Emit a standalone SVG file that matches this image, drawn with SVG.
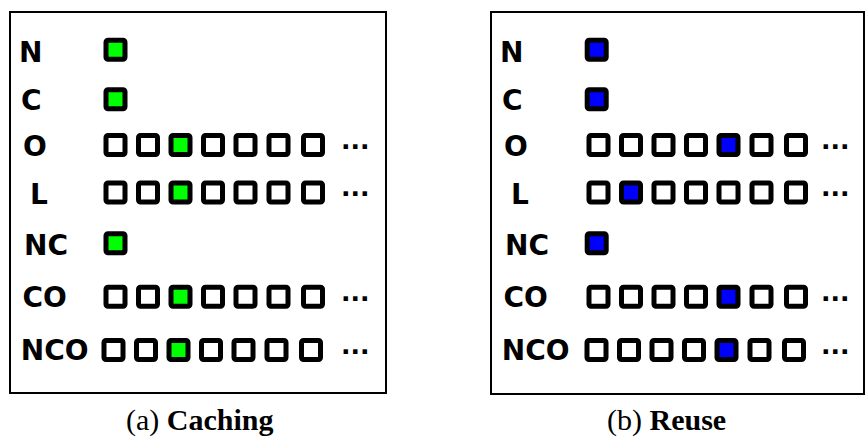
<svg xmlns="http://www.w3.org/2000/svg" width="865" height="439" viewBox="0 0 865 439">
<style>
.frame{fill:none;stroke:#000;stroke-width:2}
.sq{fill:#fff;stroke:#000;stroke-width:5}
.g{fill:#00ff00}
.b{fill:#0000ff}
.lbl{font-family:"DejaVu Sans",sans-serif;font-weight:bold;font-size:28px;fill:#000}
.dots{font-family:"DejaVu Sans",sans-serif;font-weight:bold;font-size:25px;fill:#000}
.cap{font-family:"Liberation Serif",serif;font-size:30px;fill:#000}
.bold{font-weight:bold}
</style>
<defs>
<rect id="s" width="19" height="19" rx="2"/>
</defs>
<g id="panel-a">
<rect class="frame" x="10" y="12" width="376" height="381"/>
<g id="a-N"><text class="lbl" x="19" y="62">N</text><use href="#s" class="sq g" x="106" y="40.3"/></g>
<g id="a-C"><text class="lbl" x="21" y="110">C</text><use href="#s" class="sq g" x="106" y="89.8"/></g>
<g id="a-O"><text class="lbl" x="23" y="156">O</text>
<use href="#s" class="sq" x="106" y="135.5"/><use href="#s" class="sq" x="138.5" y="135.5"/><use href="#s" class="sq g" x="171" y="135.5"/><use href="#s" class="sq" x="203.5" y="135.5"/><use href="#s" class="sq" x="236" y="135.5"/><use href="#s" class="sq" x="269" y="135.5"/><use href="#s" class="sq" x="303.5" y="135.5"/>
<text class="dots" x="341" y="149">...</text></g>
<g id="a-L"><text class="lbl" x="30" y="204">L</text>
<use href="#s" class="sq" x="106" y="183"/><use href="#s" class="sq" x="138.5" y="183"/><use href="#s" class="sq g" x="171" y="183"/><use href="#s" class="sq" x="203.5" y="183"/><use href="#s" class="sq" x="236" y="183"/><use href="#s" class="sq" x="269" y="183"/><use href="#s" class="sq" x="303.5" y="183"/>
<text class="dots" x="341" y="196">...</text></g>
<g id="a-NC"><text class="lbl" x="24" y="255">NC</text><use href="#s" class="sq g" x="106" y="233.8"/></g>
<g id="a-CO"><text class="lbl" x="22.5" y="307">CO</text>
<use href="#s" class="sq" x="106" y="287.2"/><use href="#s" class="sq" x="138.5" y="287.2"/><use href="#s" class="sq g" x="171" y="287.2"/><use href="#s" class="sq" x="203.5" y="287.2"/><use href="#s" class="sq" x="236" y="287.2"/><use href="#s" class="sq" x="269" y="287.2"/><use href="#s" class="sq" x="303.5" y="287.2"/>
<text class="dots" x="341" y="301">...</text></g>
<g id="a-NCO"><text class="lbl" x="20.8" y="360">NCO</text>
<use href="#s" class="sq" x="104" y="340.5"/><use href="#s" class="sq" x="136.5" y="340.5"/><use href="#s" class="sq g" x="169" y="340.5"/><use href="#s" class="sq" x="201.5" y="340.5"/><use href="#s" class="sq" x="234" y="340.5"/><use href="#s" class="sq" x="267" y="340.5"/><use href="#s" class="sq" x="301.5" y="340.5"/>
<text class="dots" x="341" y="354">...</text></g>
<text class="cap" x="126" y="430">(a) <tspan class="bold">Caching</tspan></text>
</g>
<g id="panel-b">
<rect class="frame" x="491" y="12" width="373" height="382"/>
<g id="b-N"><text class="lbl" x="500" y="62">N</text><use href="#s" class="sq b" x="587.2" y="40.3"/></g>
<g id="b-C"><text class="lbl" x="502" y="110">C</text><use href="#s" class="sq b" x="587.2" y="89.8"/></g>
<g id="b-O"><text class="lbl" x="504" y="156">O</text>
<use href="#s" class="sq" x="589" y="135.5"/><use href="#s" class="sq" x="621.5" y="135.5"/><use href="#s" class="sq" x="654" y="135.5"/><use href="#s" class="sq" x="686.5" y="135.5"/><use href="#s" class="sq b" x="719" y="135.5"/><use href="#s" class="sq" x="752" y="135.5"/><use href="#s" class="sq" x="786.5" y="135.5"/>
<text class="dots" x="821" y="149">...</text></g>
<g id="b-L"><text class="lbl" x="511" y="204">L</text>
<use href="#s" class="sq" x="589" y="183"/><use href="#s" class="sq b" x="621.5" y="183"/><use href="#s" class="sq" x="654" y="183"/><use href="#s" class="sq" x="686.5" y="183"/><use href="#s" class="sq" x="719" y="183"/><use href="#s" class="sq" x="752" y="183"/><use href="#s" class="sq" x="786.5" y="183"/>
<text class="dots" x="821" y="196">...</text></g>
<g id="b-NC"><text class="lbl" x="505" y="255">NC</text><use href="#s" class="sq b" x="587.2" y="233.8"/></g>
<g id="b-CO"><text class="lbl" x="503.5" y="307">CO</text>
<use href="#s" class="sq" x="589" y="287.2"/><use href="#s" class="sq" x="621.5" y="287.2"/><use href="#s" class="sq" x="654" y="287.2"/><use href="#s" class="sq" x="686.5" y="287.2"/><use href="#s" class="sq b" x="719" y="287.2"/><use href="#s" class="sq" x="752" y="287.2"/><use href="#s" class="sq" x="786.5" y="287.2"/>
<text class="dots" x="821" y="301">...</text></g>
<g id="b-NCO"><text class="lbl" x="501.8" y="360">NCO</text>
<use href="#s" class="sq" x="587" y="340.5"/><use href="#s" class="sq" x="619.5" y="340.5"/><use href="#s" class="sq" x="652" y="340.5"/><use href="#s" class="sq" x="684.5" y="340.5"/><use href="#s" class="sq b" x="717" y="340.5"/><use href="#s" class="sq" x="750" y="340.5"/><use href="#s" class="sq" x="784.5" y="340.5"/>
<text class="dots" x="821" y="354">...</text></g>
<text class="cap" x="607" y="430">(b) <tspan class="bold">Reuse</tspan></text>
</g>
</svg>
